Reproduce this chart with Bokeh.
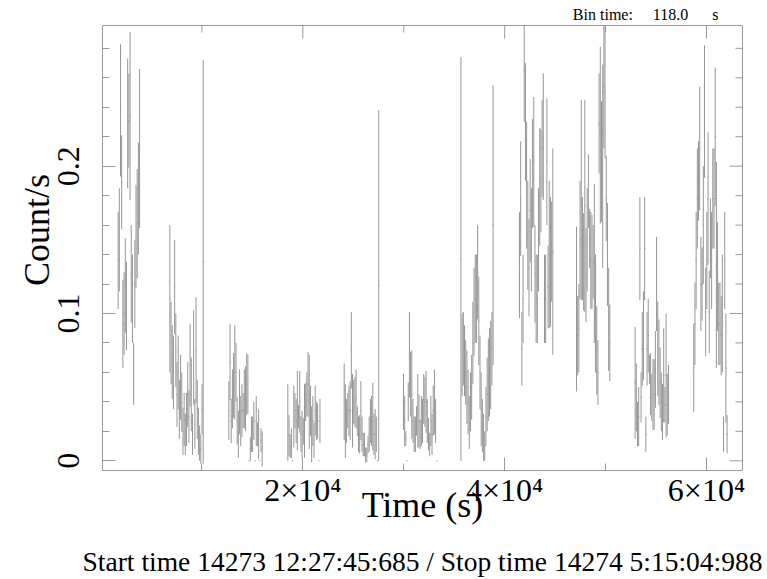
import numpy as np
from bokeh.plotting import figure
from bokeh.models import LinearAxis, FixedTicker, Range1d, Title, ColumnDataSource
from bokeh.embed import file_html
from bokeh.resources import INLINE

BIN_TIME = 118.0

# start time (s) of the first bin of each observation segment
seg_start = [1700, 6825, 12670, 18515, 24100, 29975, 35670, 41470, 47120, 52930, 58740]

rate_seg1 = [0.136, 0.150, 0.238, 0.189, 0.093, 0.100, 0.119, 0.105, 0.229, 0.231,
             0.234, 0.127, 0.110, 0.059, 0.120, 0.152, 0.161, 0.178, 0.212]
err_seg1 = [0.033, 0.035, 0.045, 0.032, 0.030, 0.028, 0.032, 0.030, 0.044, 0.032,
            0.057, 0.033, 0.030, 0.021, 0.030, 0.035, 0.037, 0.038, 0.054]

rate_seg2 = [0.110, 0.080, 0.067, 0.060, 0.118, 0.075, 0.045, 0.060, 0.035, 0.050,
             0.040, 0.020, 0.028, 0.018, 0.028, 0.045, 0.030, 0.065, 0.045, 0.018,
             0.070, 0.025, 0.075, 0.035, 0.020, 0.012, 0.008, 0.035, 0.135]
err_seg2 = [0.050, 0.028, 0.025, 0.025, 0.032, 0.025, 0.022, 0.025, 0.020, 0.022,
            0.020, 0.016, 0.018, 0.014, 0.018, 0.022, 0.018, 0.028, 0.025, 0.014,
            0.032, 0.017, 0.036, 0.020, 0.016, 0.012, 0.010, 0.017, 0.137]

rate_seg3 = [0.034, 0.067, 0.027, 0.042, 0.051, 0.060, 0.060, 0.027, 0.018, 0.040,
             0.027, 0.034, 0.034, 0.042, 0.042, 0.052, 0.052, 0.000, 0.008, 0.018,
             0.018, 0.027, 0.000, 0.027, 0.018, 0.018, 0.000, 0.014, 0.008]
err_seg3 = [0.020, 0.026, 0.015, 0.020, 0.022, 0.032, 0.020, 0.016, 0.016, 0.022,
            0.017, 0.018, 0.012, 0.020, 0.022, 0.021, 0.020, 0.000, 0.008, 0.012,
            0.012, 0.013, 0.000, 0.017, 0.008, 0.017, 0.000, 0.008, 0.012]

rate_seg4 = [0.026, 0.017, 0.010, 0.012, 0.000, 0.030, 0.034, 0.027, 0.034, 0.030,
             0.040, 0.018, 0.018, 0.020, 0.027, 0.040, 0.045, 0.052, 0.040, 0.034,
             0.018, 0.027, 0.014, 0.034, 0.027, 0.027, 0.000, 0.027]
err_seg4 = [0.026, 0.014, 0.008, 0.010, 0.000, 0.021, 0.012, 0.015, 0.027, 0.008,
            0.021, 0.012, 0.016, 0.009, 0.025, 0.013, 0.015, 0.022, 0.032, 0.017,
            0.019, 0.017, 0.012, 0.017, 0.013, 0.012, 0.000, 0.015]

rate_seg5 = [0.040, 0.027, 0.027, 0.034, 0.034, 0.034, 0.075, 0.034, 0.040, 0.040,
             0.042, 0.027, 0.018, 0.018, 0.034, 0.018, 0.011, 0.011, 0.004, 0.004,
             0.011, 0.018, 0.027, 0.027, 0.030, 0.018, 0.018, 0.018, 0.000, 0.119]
err_seg5 = [0.026, 0.025, 0.015, 0.012, 0.017, 0.020, 0.026, 0.025, 0.015, 0.017,
            0.020, 0.010, 0.012, 0.013, 0.020, 0.012, 0.008, 0.008, 0.005, 0.005,
            0.006, 0.012, 0.015, 0.017, 0.023, 0.014, 0.017, 0.012, 0.000, 0.119]

rate_seg6 = [0.040, 0.027, 0.015, 0.000, 0.040, 0.072, 0.052, 0.045, 0.027, 0.018,
             0.018, 0.027, 0.034, 0.027, 0.018, 0.027, 0.027, 0.042, 0.040, 0.040,
             0.027, 0.018, 0.011, 0.027, 0.018, 0.034, 0.040, 0.027, 0.000]
err_seg6 = [0.019, 0.017, 0.005, 0.000, 0.013, 0.029, 0.022, 0.030, 0.015, 0.012,
            0.012, 0.010, 0.025, 0.018, 0.010, 0.017, 0.015, 0.017, 0.017, 0.021,
            0.015, 0.011, 0.008, 0.017, 0.014, 0.017, 0.022, 0.015, 0.000]

rate_seg7 = [0.137, 0.072, 0.076, 0.068, 0.060, 0.050, 0.040, 0.026, 0.040, 0.050,
             0.080, 0.101, 0.110, 0.110, 0.128, 0.095, 0.060, 0.035, 0.024, 0.016,
             0.010, 0.030, 0.045, 0.055, 0.060, 0.065, 0.076, 0.160]
err_seg7 = [0.137, 0.028, 0.025, 0.024, 0.022, 0.025, 0.022, 0.018, 0.020, 0.022,
            0.028, 0.030, 0.030, 0.030, 0.032, 0.030, 0.025, 0.025, 0.018, 0.016,
            0.010, 0.020, 0.025, 0.028, 0.030, 0.030, 0.025, 0.095]

rate_seg8 = [0.133, 0.178, 0.076, 0.110, 0.265, 0.230, 0.187, 0.153, 0.131, 0.170,
             0.150, 0.195, 0.203, 0.127, 0.110, 0.110, 0.150, 0.186, 0.190, 0.212,
             0.220, 0.110, 0.110, 0.203, 0.118, 0.140, 0.135, 0.142, 0.142]
err_seg8 = [0.036, 0.039, 0.025, 0.030, 0.035, 0.040, 0.043, 0.037, 0.033, 0.035,
            0.035, 0.037, 0.044, 0.033, 0.030, 0.030, 0.035, 0.040, 0.035, 0.033,
            0.043, 0.030, 0.030, 0.043, 0.028, 0.050, 0.044, 0.034, 0.070]

rate_seg9 = [0.103, 0.085, 0.090, 0.150, 0.177, 0.144, 0.135, 0.173, 0.126, 0.150,
             0.183, 0.151, 0.136, 0.135, 0.135, 0.134, 0.100, 0.075, 0.060, 0.229,
             0.221, 0.203, 0.200, 0.254, 0.250, 0.178, 0.140, 0.096, 0.080]
err_seg9 = [0.056, 0.027, 0.030, 0.040, 0.068, 0.035, 0.033, 0.072, 0.032, 0.035,
            0.025, 0.020, 0.033, 0.032, 0.025, 0.054, 0.040, 0.030, 0.022, 0.034,
            0.060, 0.041, 0.069, 0.042, 0.045, 0.029, 0.035, 0.035, 0.026]

rate_seg10 = [0.053, 0.043, 0.025, 0.030, 0.144, 0.043, 0.076, 0.085, 0.144, 0.018,
              0.076, 0.085, 0.062, 0.052, 0.043, 0.045, 0.045, 0.062, 0.120, 0.076,
              0.067, 0.053, 0.040, 0.033, 0.058, 0.038, 0.058, 0.038, 0.045]
err_seg10 = [0.038, 0.023, 0.015, 0.020, 0.035, 0.017, 0.025, 0.030, 0.035, 0.012,
             0.025, 0.025, 0.010, 0.021, 0.016, 0.024, 0.024, 0.026, 0.032, 0.032,
             0.029, 0.024, 0.020, 0.019, 0.032, 0.012, 0.042, 0.021, 0.020]

rate_seg11 = [0.063, 0.093, 0.136, 0.178, 0.190, 0.212, 0.120, 0.120, 0.160, 0.237,
              0.101, 0.136, 0.178, 0.101, 0.151, 0.136, 0.178, 0.178, 0.220, 0.133,
              0.125, 0.093, 0.093, 0.085, 0.100, 0.018, 0.136, 0.063, 0.018]
err_seg11 = [0.030, 0.028, 0.033, 0.034, 0.027, 0.042, 0.032, 0.025, 0.040, 0.045,
             0.030, 0.033, 0.045, 0.028, 0.027, 0.033, 0.034, 0.034, 0.047, 0.070,
             0.037, 0.028, 0.028, 0.027, 0.040, 0.012, 0.033, 0.037, 0.013]

rate_segs = [rate_seg1, rate_seg2, rate_seg3, rate_seg4, rate_seg5, rate_seg6,
             rate_seg7, rate_seg8, rate_seg9, rate_seg10, rate_seg11]
err_segs = [err_seg1, err_seg2, err_seg3, err_seg4, err_seg5, err_seg6,
            err_seg7, err_seg8, err_seg9, err_seg10, err_seg11]

x_major = [20000, 40000, 60000]
x_minor = [10000, 30000, 50000]
x_tick_labels = ["2×10⁴", "4×10⁴", "6×10⁴"]
y_major = [0.0, 0.1, 0.2]
y_minor = [0.02, 0.04, 0.06, 0.08, 0.12, 0.14, 0.16, 0.18, 0.22, 0.24, 0.26, 0.28]
y_tick_labels = ["0", "0.1", "0.2"]

caption = "Start time 14273 12:27:45:685 / Stop time 14274 5:15:04:988"
NB = "\u00a0"
bin_text = "Bin time:" + NB * 5 + "118.0" + NB * 6 + "s"
y_title = NB * 4 + "Count/s"

X_START, X_END = 150, 63570
Y_START, Y_END = -0.0066, 0.2955

# ---- assemble bins ----
t, r, e = [], [], []
for start, rr, ee in zip(seg_start, rate_segs, err_segs):
    for i, (a, b) in enumerate(zip(rr, ee)):
        t.append(start + i * BIN_TIME)
        r.append(a)
        e.append(b)
t = np.array(t); r = np.array(r); e = np.array(e)
src = ColumnDataSource(dict(t=t, r=r, lo=r - e, hi=r + e,
                            t0=t - BIN_TIME / 2, t1=t + BIN_TIME / 2))

BAR = "#969696"
FRAME = "#9a9a9a"
SERIF = "Liberation Serif"

p = figure(frame_width=640, frame_height=445,
           x_range=Range1d(X_START, X_END), y_range=Range1d(Y_START, Y_END),
           output_backend="svg", toolbar_location=None,
           min_border_left=102, min_border_right=25, min_border_top=24,
           min_border_bottom=110)
p.grid.visible = False
p.outline_line_color = FRAME
p.background_fill_color = "white"
p.border_fill_color = "white"

p.segment(x0="t", y0="lo", x1="t", y1="hi", source=src, line_color=BAR, line_width=1)
p.segment(x0="t0", y0="r", x1="t1", y1="r", source=src, line_color=BAR, line_width=1)

xt = FixedTicker(ticks=x_major, minor_ticks=x_minor)
yt = FixedTicker(ticks=y_major, minor_ticks=y_minor)


def style(ax):
    ax.axis_line_color = FRAME
    ax.major_tick_line_color = FRAME
    ax.minor_tick_line_color = FRAME
    ax.major_tick_in = 13
    ax.major_tick_out = 0
    ax.minor_tick_in = 7
    ax.minor_tick_out = 0
    ax.major_label_text_font = SERIF
    ax.major_label_text_color = "black"
    ax.axis_label_text_font = SERIF
    ax.axis_label_text_font_style = "normal"
    ax.axis_label_text_color = "black"


xa = p.xaxis[0]
xa.ticker = xt
style(xa)
xa.major_label_overrides = {v: s for v, s in zip(x_major, x_tick_labels)}
xa.major_label_text_font_size = "32px"
xa.major_label_standoff = 1
xa.axis_label = "Time (s)"
xa.axis_label_text_font_size = "36px"
xa.axis_label_standoff = -26

ya = p.yaxis[0]
ya.ticker = yt
style(ya)
ya.major_label_overrides = {v: s for v, s in zip(y_major, y_tick_labels)}
ya.major_label_orientation = "vertical"
ya.major_label_text_font_size = "32px"
ya.major_label_standoff = 23
ya.axis_label = y_title
ya.axis_label_text_font_size = "36px"
ya.axis_label_standoff = -1

# caption line below the time axis
cap = LinearAxis(ticker=FixedTicker(ticks=[]), axis_label=caption)
cap.axis_line_color = None
cap.major_tick_in = 0
cap.major_tick_out = 0
cap.minor_tick_in = 0
cap.minor_tick_out = 0
cap.major_label_standoff = 0
cap.axis_label_standoff = 18
cap.axis_label_text_font = SERIF
cap.axis_label_text_font_style = "normal"
cap.axis_label_text_font_size = "27.5px"
cap.axis_label_text_color = "black"
p.add_layout(cap, "below")

# bin time note at top right
p.add_layout(Title(text=bin_text, align="right", offset=24, standoff=6,
                   text_font=SERIF, text_font_size="16px", text_font_style="normal",
                   text_color="black"), "above")

# inward ticks on the top and right edges of the frame
p.ray(x=x_major, y=[Y_END] * len(x_major), length=13, length_units="screen",
      angle=-np.pi / 2, line_color=FRAME, line_width=1)
p.ray(x=x_minor, y=[Y_END] * len(x_minor), length=7, length_units="screen",
      angle=-np.pi / 2, line_color=FRAME, line_width=1)
p.ray(x=[X_END] * len(y_major), y=y_major, length=13, length_units="screen",
      angle=np.pi, line_color=FRAME, line_width=1)
p.ray(x=[X_END] * len(y_minor), y=y_minor, length=7, length_units="screen",
      angle=np.pi, line_color=FRAME, line_width=1)

open("out.html", "w").write(file_html(p, INLINE))
